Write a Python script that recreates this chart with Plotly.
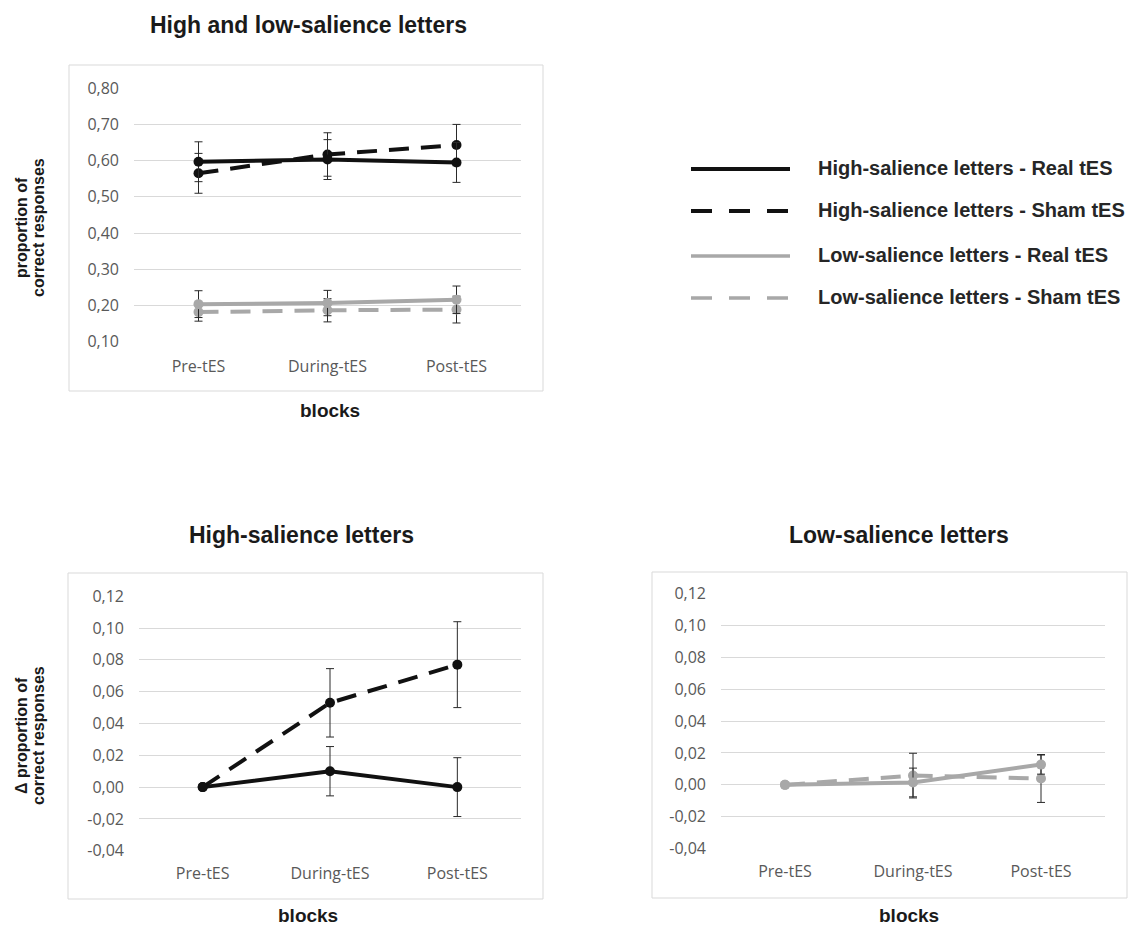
import plotly.graph_objects as go

# ---- data ----
blocks = ["Pre-tES", "During-tES", "Post-tES"]

# proportion of correct responses per block
high_real = [0.597, 0.603, 0.595]
high_real_err = [0.055, 0.055, 0.055]
high_sham = [0.565, 0.617, 0.643]
high_sham_err = [0.055, 0.060, 0.057]
low_real = [0.204, 0.207, 0.216]
low_real_err = [0.037, 0.035, 0.038]
low_sham = [0.182, 0.187, 0.189]
low_sham_err = [0.025, 0.032, 0.037]

# change from the pre-tES block
high_real_delta = [0.000, 0.010, 0.000]
high_real_delta_err = [0.0, 0.0155, 0.0185]
high_sham_delta = [0.000, 0.053, 0.077]
high_sham_delta_err = [0.0, 0.0215, 0.027]
low_real_delta = [0.000, 0.0015, 0.0127]
low_real_delta_err = [0.0, 0.009, 0.006]
low_sham_delta = [0.000, 0.0058, 0.004]
low_sham_delta_err = [0.0, 0.014, 0.015]

top_ticks = [0.10, 0.20, 0.30, 0.40, 0.50, 0.60, 0.70, 0.80]
top_ticktext = ["0,10", "0,20", "0,30", "0,40", "0,50", "0,60", "0,70", "0,80"]
delta_ticks = [-0.04, -0.02, 0.00, 0.02, 0.04, 0.06, 0.08, 0.10, 0.12]
delta_ticktext = ["-0,04", "-0,02", "0,00", "0,02", "0,04", "0,06", "0,08", "0,10", "0,12"]

series_labels = [
    "High-salience letters - Real tES",
    "High-salience letters - Sham tES",
    "Low-salience letters - Real tES",
    "Low-salience letters - Sham tES",
]

# ---- styling ----
W, H = 1132, 928
BLACK = "#111111"
GREY = "#a8a8a8"
ERR = "#2a2a2a"
GRID = "#d9d9d9"
TICK_FONT = dict(family="Open Sans", size=16, color="#595959")
BOLD = "Liberation Sans"
DASH = "20px,12px"


def px(x):
    return x / W


def py(y):
    return 1 - y / H


def series(x, y, err, color, dash, xa, ya, name):
    return go.Scatter(
        x=x, y=y, name=name, xaxis=xa, yaxis=ya, mode="lines+markers",
        line=dict(color=color, width=4, dash=dash),
        marker=dict(color=color, size=10, symbol="circle"),
        error_y=dict(type="data", array=err, visible=True, color=ERR,
                     thickness=1, width=4),
        showlegend=False,
    )


fig = go.Figure()
# upper panel
fig.add_trace(series(blocks, low_sham, low_sham_err, GREY, DASH, "x", "y", series_labels[3]))
fig.add_trace(series(blocks, low_real, low_real_err, GREY, "solid", "x", "y", series_labels[2]))
fig.add_trace(series(blocks, high_sham, high_sham_err, BLACK, DASH, "x", "y", series_labels[1]))
fig.add_trace(series(blocks, high_real, high_real_err, BLACK, "solid", "x", "y", series_labels[0]))
# lower-left panel
fig.add_trace(series(blocks, high_sham_delta, high_sham_delta_err, BLACK, DASH, "x2", "y2", series_labels[1]))
fig.add_trace(series(blocks, high_real_delta, high_real_delta_err, BLACK, "solid", "x2", "y2", series_labels[0]))
# lower-right panel
fig.add_trace(series(blocks, low_sham_delta, low_sham_delta_err, GREY, DASH, "x3", "y3", series_labels[3]))
fig.add_trace(series(blocks, low_real_delta, low_real_delta_err, GREY, "solid", "x3", "y3", series_labels[2]))


def xaxis(x0, x1, anchor, standoff):
    return dict(domain=[px(x0), px(x1)], anchor=anchor, type="category",
                categoryorder="array", categoryarray=blocks,
                range=[-0.5, 2.5], showgrid=False, showline=False,
                zeroline=False, ticks="", tickfont=TICK_FONT, automargin=False,
                ticklabelstandoff=standoff, fixedrange=True)


def yaxis(y0, y1, anchor, rng, vals, text):
    return dict(domain=[py(y1), py(y0)], anchor=anchor, range=rng,
                tickvals=vals, ticktext=text, showgrid=True, gridcolor=GRID,
                gridwidth=1, zeroline=False, showline=False, ticks="",
                automargin=False, tickfont=TICK_FONT, ticklabelstandoff=14,
                fixedrange=True)


pad = 0.0005
fig.update_layout(
    template="none",
    width=W, height=H, autosize=False,
    margin=dict(l=0, r=0, t=0, b=0, pad=0, autoexpand=False),
    paper_bgcolor="white", plot_bgcolor="white", showlegend=False,
    xaxis=xaxis(134, 521, "y", 13),
    yaxis=yaxis(88, 342, "x", [0.10 - pad, 0.80 + pad], top_ticks, top_ticktext),
    xaxis2=xaxis(139, 521, "y2", 11),
    yaxis2=yaxis(596, 851, "x2", [-0.04 - pad / 3, 0.12 + pad / 3], delta_ticks, delta_ticktext),
    xaxis3=xaxis(721, 1105, "y3", 11),
    yaxis3=yaxis(593, 849, "x3", [-0.04 - pad / 3, 0.12 + pad / 3], delta_ticks, delta_ticktext),
)

shapes = []
# chart-area frames
for x0, y0, x1, y1 in [(69, 65, 543, 391), (68, 573, 543, 899), (652, 572, 1127, 898)]:
    shapes.append(dict(type="rect", xref="paper", yref="paper",
                       x0=px(x0), x1=px(x1), y0=py(y1), y1=py(y0),
                       line=dict(color=GRID, width=1), fillcolor="rgba(0,0,0,0)",
                       layer="below"))

annotations = []


def text(x, y, s, size, color="#1a1a1a", angle=0, xanchor="center", family=BOLD):
    annotations.append(dict(xref="paper", yref="paper", x=px(x), y=py(y),
                            text="<b>%s</b>" % s, showarrow=False,
                            xanchor=xanchor, yanchor="middle", textangle=angle,
                            font=dict(family=family, size=size, color=color)))


# panel titles
text(308, 25, "High and low-salience letters", 23)
text(301, 535, "High-salience letters", 23)
text(899, 535, "Low-salience letters", 23)
# x-axis titles
text(330, 410, "blocks", 19)
text(308, 915, "blocks", 19)
text(909, 915, "blocks", 19)
# y-axis titles
text(21, 228, "proportion of", 16, angle=-90)
text(38, 228, "correct responses", 16, angle=-90)
text(21, 736, "Δ proportion of", 16, angle=-90)
text(38, 736, "correct responses", 16, angle=-90)

# legend
legend_rows = [169, 211, 256, 298]
legend_styles = [(BLACK, "solid"), (BLACK, "21px,17px"), (GREY, "solid"), (GREY, "21px,17px")]
for yy, (col, dsh), lab in zip(legend_rows, legend_styles, series_labels):
    shapes.append(dict(type="line", xref="paper", yref="paper",
                       x0=px(691), x1=px(790), y0=py(yy), y1=py(yy),
                       line=dict(color=col, width=4 if col == BLACK else 3.5, dash=dsh)))
    text(816, yy - 1, lab, 20, color="#262626", xanchor="left")

fig.update_layout(shapes=shapes, annotations=annotations)

fig.write_html("out.html")
